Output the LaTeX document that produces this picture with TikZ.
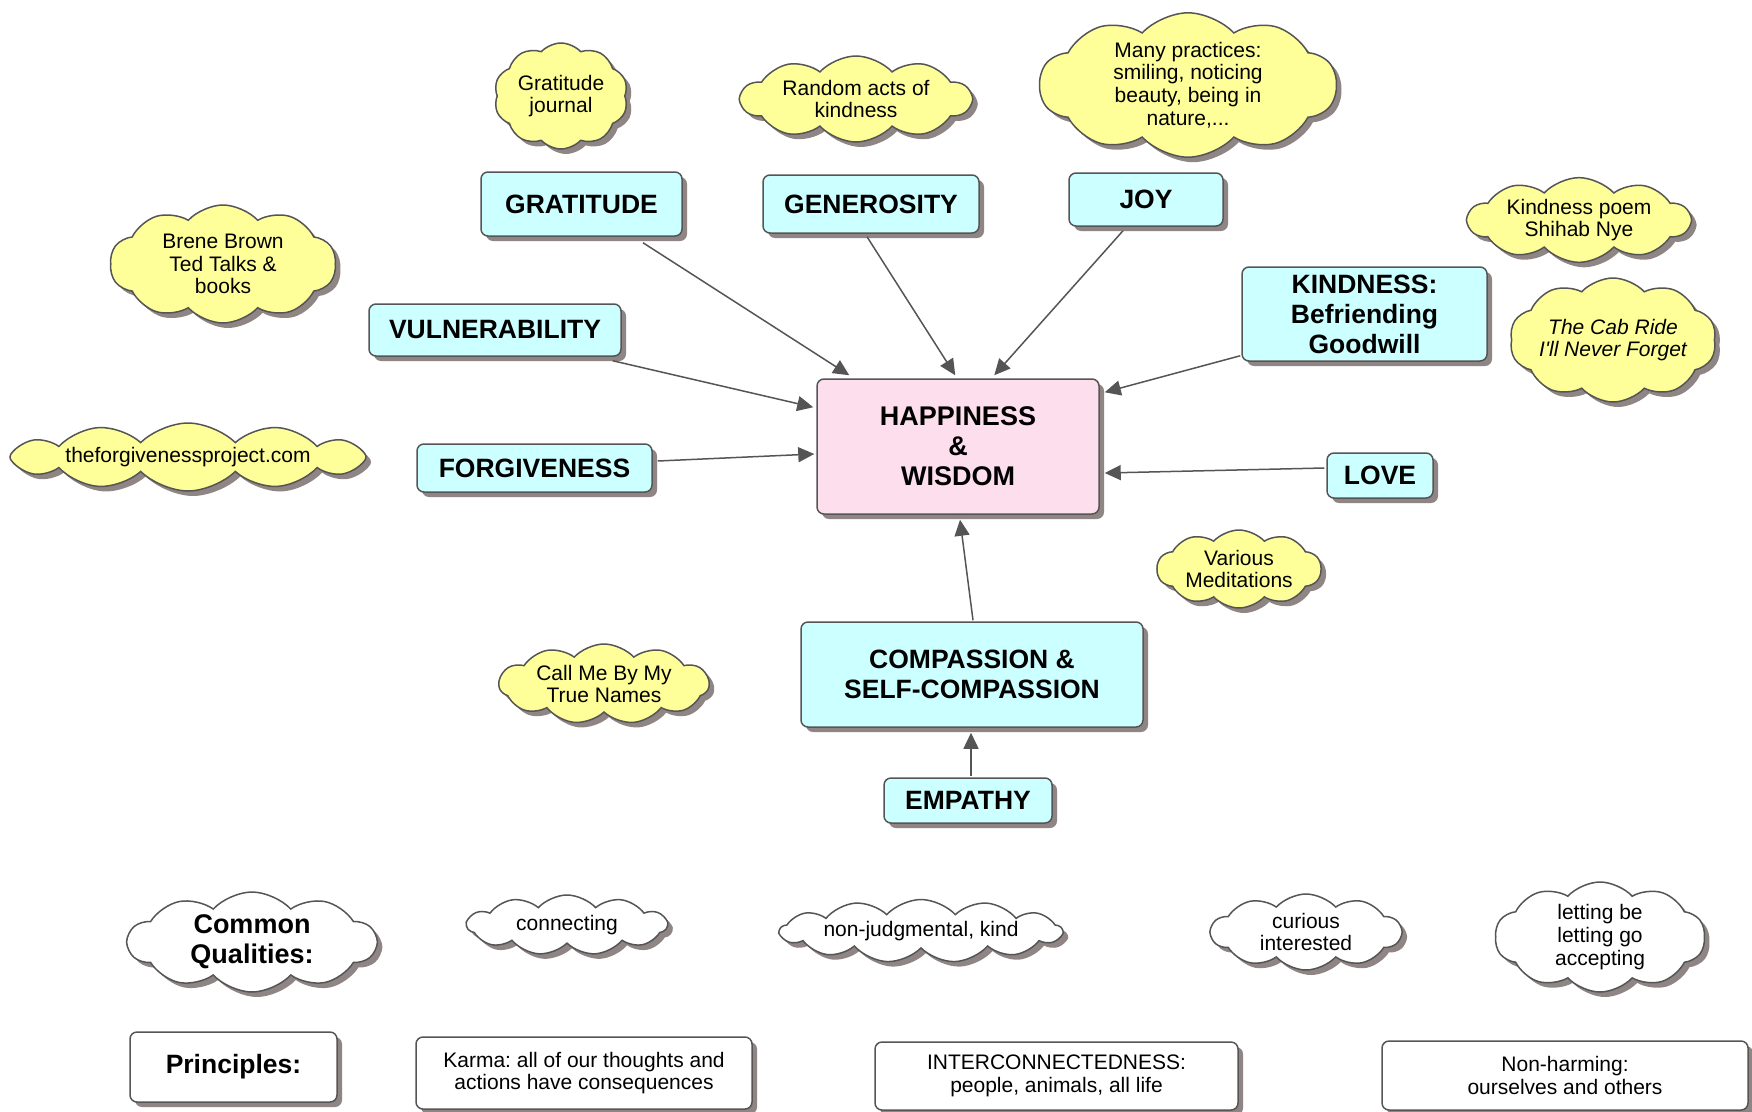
\documentclass[tikz,border=0pt]{standalone}
\usepackage{fontspec}
\setmainfont{Liberation Sans}[Ligatures=TeXOff]
\frenchspacing
\usetikzlibrary{shapes.symbols,shadows,arrows.meta,calc}
\definecolor{cyanc}{RGB}{204,255,255}
\definecolor{pinkc}{RGB}{252,222,236}
\definecolor{yelc}{RGB}{255,255,153}
\definecolor{bordc}{RGB}{85,85,85}
\definecolor{shadc}{RGB}{143,133,133}
\definecolor{arrc}{RGB}{85,85,85}
\begin{document}
\begin{tikzpicture}[x=1pt,y=-1pt,
  boxshadow/.style={drop shadow={shadow xshift=5pt,shadow yshift=-5pt,fill=shadc,opacity=1}},
  basebox/.style={rectangle,rounded corners=7pt,draw=bordc,line width=1.5pt,boxshadow,align=center,inner sep=0pt},
  concept/.style={basebox,fill=cyanc,font=\bfseries\fontsize{26.5}{30}\selectfont},
  central/.style={basebox,fill=pinkc,font=\bfseries\fontsize{27}{30}\selectfont},
  princ/.style={basebox,fill=white,font=\fontsize{21}{22.5}\selectfont},
  cloudbase/.style={cloud,cloud puffs=10,cloud puff arc=95,cloud ignores aspect,draw=bordc,line width=1.5pt,boxshadow,align=center,inner sep=0pt,font=\fontsize{21}{22.7}\selectfont},
  ycloud/.style={cloudbase,fill=yelc},
  wcloud/.style={cloudbase,fill=white},
  arr/.style={draw=arrc,line width=1.5pt,-{Triangle[length=16pt,width=15pt]}}
]
\useasboundingbox (0,0) rectangle (1752,1111);
\fill[white] (0,0) rectangle (1752,1111);

% concepts
\node[central,minimum width=282pt,minimum height=135pt] (hap) at (958,446.5) {HAPPINESS\\\&\\WISDOM};
\node[concept,minimum width=201pt,minimum height=64pt] (grat) at (581.5,204) {GRATITUDE};
\node[concept,minimum width=216pt,minimum height=58pt] (gen) at (871,204) {GENEROSITY};
\node[concept,minimum width=154pt,minimum height=53pt] (joy) at (1146,199.5) {JOY};
\node[concept,minimum width=245pt,minimum height=94pt] (kind) at (1364.5,314) {KINDNESS:\\Befriending\\Goodwill};
\node[concept,minimum width=252pt,minimum height=52pt] (vul) at (495,330) {VULNERABILITY};
\node[concept,minimum width=235pt,minimum height=48pt] (forg) at (534.5,468) {FORGIVENESS};
\node[concept,minimum width=106pt,minimum height=45pt] (love) at (1380,475.5) {LOVE};
\node[concept,minimum width=342pt,minimum height=105pt] (comp) at (972,674.5) {COMPASSION \&\\SELF-COMPASSION};
\node[concept,minimum width=168pt,minimum height=45pt] (emp) at (968,800.5) {EMPATHY};

% principles
\node[princ,minimum width=207pt,minimum height=70pt,font=\bfseries\fontsize{26.5}{30}\selectfont] (prin) at (233.5,1067) {Principles:};
\node[princ,minimum width=336pt,minimum height=72pt] (karma) at (584,1073) {Karma: all of our thoughts and\\actions have consequences};
\node[princ,minimum width=363pt,minimum height=68pt] (inter) at (1056.5,1076) {INTERCONNECTEDNESS:\\people, animals, all life};
\node[princ,minimum width=366pt,minimum height=69pt] (nonh) at (1565,1075.5) {Non-harming:\\ourselves and others};

% yellow clouds
\node[ycloud,minimum width=134pt,minimum height=106pt] (cgj) at (561,96) {Gratitude\\journal};
\node[ycloud,minimum width=230pt,minimum height=86pt] (crak) at (856,99) {Random acts of\\kindness};
\node[ycloud,minimum width=297pt,minimum height=143pt] (cmany) at (1188,85) {Many practices:\\smiling, noticing\\beauty, being in\\nature,...};
\node[ycloud,minimum width=222pt,minimum height=84pt] (cpoem) at (1579,220) {Kindness poem\\Shihab Nye};
\node[ycloud,minimum width=201pt,minimum height=124pt,font=\itshape\fontsize{21}{22.7}\selectfont] (ccab) at (1613,340) {The Cab Ride\\I'll Never Forget};
\node[ycloud,minimum width=226pt,minimum height=118pt] (cbrene) at (223,264) {Brene Brown\\Ted Talks \&\\books};
\node[ycloud,cloud puffs=12,cloud puff arc=90,minimum width=356pt,minimum height=68pt] (cforgp) at (188,457) {theforgivenessproject.com};
\node[ycloud,minimum width=164pt,minimum height=78pt] (cmed) at (1239,569) {Various\\Meditations};
\node[ycloud,cloud puffs=11,minimum width=210pt,minimum height=80pt] (ccall) at (604,684) {Call Me By My\\True Names};

% white clouds
\node[wcloud,minimum width=248pt,minimum height=100pt,font=\bfseries\fontsize{27}{30}\selectfont] (ccq) at (252,942) {Common\\Qualities:};
\node[wcloud,cloud puffs=11,minimum width=200pt,minimum height=60pt] (ccon) at (567,925) {connecting};
\node[wcloud,cloud puffs=13,minimum width=282pt,minimum height=63pt] (cnon) at (921,931) {non-judgmental, kind};
\node[wcloud,minimum width=190pt,minimum height=76pt] (ccur) at (1306,932) {curious\\interested};
\node[wcloud,minimum width=210pt,minimum height=110pt] (clet) at (1600,937) {letting be\\letting go\\accepting};

% connectors
\draw[arr] ($(grat.south)+(61.5,6)$) -- ($(hap.north west)+(33,-3)$);
\draw[arr] ($(gen.south)+(-4,3)$) -- ($(hap.north west)+(139,-3)$);
\draw[arr] ($(joy.south)+(-23,4)$) -- ($(hap.north west)+(178,-3)$);
\draw[arr] ($(kind.south west)+(-1,-6)$) -- ($(hap.north east)+(5,14)$);
\draw[arr] ($(vul.south east)+(-9,4)$) -- ($(hap.north west)+(-3,29)$);
\draw[arr] ($(forg.east)+(5,-7)$) -- ($(hap.west)+(-2,7.5)$);
\draw[arr] ($(love.west)+(-2,-7.5)$) -- ($(hap.east)+(5,26.5)$);
\draw[arr] ($(comp.north)+(1,-1)$) -- ($(hap.south)+(2,5)$);
\draw[arr] ($(emp.north)+(3,-1)$) -- ($(comp.south)+(-1,5)$);
\end{tikzpicture}
\end{document}
